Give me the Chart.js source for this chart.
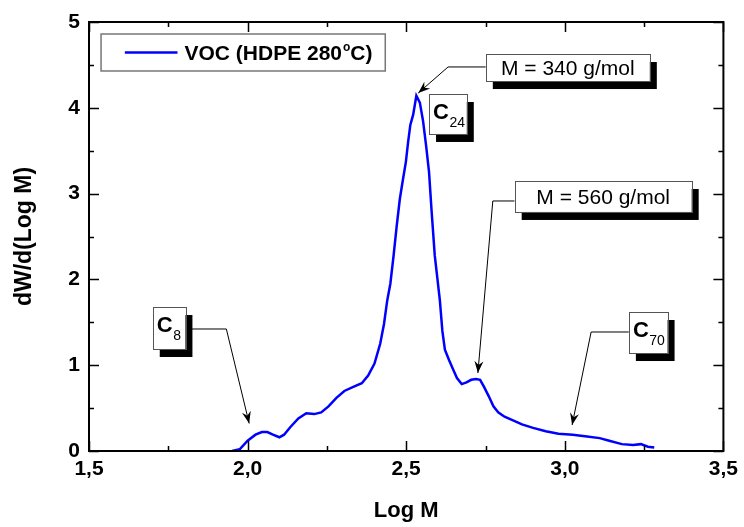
<!DOCTYPE html>
<html>
<head>
<meta charset="utf-8">
<script src="https://cdn.jsdelivr.net/npm/chart.js@4.4.0/dist/chart.umd.min.js"></script>
<style>
  html, body { margin: 0; padding: 0; background: #fff; }
  #wrap { width: 744px; height: 527px; }
</style>
</head>
<body>
<div id="wrap"><canvas id="voc-chart"></canvas></div>
<script>
// Data
const logM = [1.951, 1.975, 2.000, 2.025, 2.045, 2.062, 2.080, 2.100, 2.115, 2.135,
  2.160, 2.185, 2.210, 2.232, 2.255, 2.280, 2.305, 2.335, 2.360, 2.380,
  2.400, 2.418, 2.430, 2.440, 2.450, 2.460, 2.470, 2.480, 2.490, 2.499,
  2.506, 2.513, 2.522, 2.532, 2.543, 2.553, 2.563, 2.572, 2.580, 2.590,
  2.598, 2.606, 2.614, 2.622, 2.635, 2.648, 2.660, 2.675, 2.690, 2.705,
  2.720, 2.733, 2.745, 2.760, 2.775, 2.790, 2.810, 2.835, 2.865, 2.900,
  2.940, 2.980, 3.025, 3.070, 3.110, 3.140, 3.180, 3.215, 3.240, 3.262, 3.282];
const dWdLogM = [0.00, 0.02, 0.12, 0.19, 0.22, 0.22, 0.19, 0.16, 0.19, 0.28,
  0.38, 0.44, 0.43, 0.45, 0.52, 0.62, 0.70, 0.75, 0.79, 0.88,
  1.02, 1.25, 1.48, 1.75, 1.95, 2.27, 2.62, 2.94, 3.17, 3.37,
  3.60, 3.80, 3.92, 4.14, 4.06, 3.85, 3.55, 3.25, 2.80, 2.28,
  2.02, 1.76, 1.40, 1.18, 1.06, 0.95, 0.85, 0.78, 0.80, 0.83,
  0.84, 0.83, 0.75, 0.64, 0.52, 0.45, 0.40, 0.36, 0.31, 0.27,
  0.23, 0.20, 0.19, 0.17, 0.15, 0.12, 0.08, 0.07, 0.08, 0.05, 0.04];
const xTicks = [1.5, 2.0, 2.5, 3.0, 3.5];
const yTicks = [0, 1, 2, 3, 4, 5];
const seriesName = 'VOC (HDPE 280';

const FONT = '"Liberation Sans", Arial, Helvetica, sans-serif';

// Callouts, placed in data coordinates (box corners, leader path ending at arrow tip)
const textNotes = [
  { text: 'M = 340 g/mol', box: [2.751, 4.627, 3.268, 4.312], path: [[2.751, 4.476], [2.632, 4.476], [2.538, 4.172]] },
  { text: 'M = 560 g/mol', box: [2.842, 3.147, 3.400, 2.786], path: [[2.842, 2.914], [2.773, 2.914], [2.726, 0.909]] }
];
const carbonNotes = [
  { sub: '24', box: [2.572, 4.161, 2.691, 3.695], path: null },
  { sub: '8', box: [1.701, 1.678, 1.804, 1.189], path: [[1.804, 1.422], [1.933, 1.422], [2.005, 0.321]] },
  { sub: '70', box: [3.202, 1.620, 3.324, 1.142], path: [[3.202, 1.387], [3.083, 1.387], [3.023, 0.303]] }
];

function arrowHead(ctx, fx, fy, tx, ty) {
  const ang = Math.atan2(ty - fy, tx - fx);
  ctx.save();
  ctx.translate(tx, ty);
  ctx.rotate(ang);
  ctx.beginPath();
  ctx.moveTo(0, 0);
  ctx.lineTo(-12, -4.5);
  ctx.lineTo(-8, 0);
  ctx.lineTo(-12, 4.5);
  ctx.closePath();
  ctx.fill();
  ctx.restore();
}

function shadowBox(ctx, x0, y0, x1, y1) {
  ctx.fillStyle = '#000';
  ctx.fillRect(x0 + 7, y0 + 8, x1 - x0, y1 - y0);
  ctx.fillStyle = '#fff';
  ctx.fillRect(x0, y0, x1 - x0, y1 - y0);
  ctx.strokeStyle = '#555';
  ctx.lineWidth = 1;
  ctx.strokeRect(Math.round(x0) + 0.5, Math.round(y0) + 0.5, Math.round(x1 - x0), Math.round(y1 - y0));
}

function leader(ctx, pts) {
  ctx.strokeStyle = '#000';
  ctx.fillStyle = '#000';
  ctx.lineWidth = 1;
  ctx.beginPath();
  pts.forEach((p, i) => i ? ctx.lineTo(p[0], p[1]) : ctx.moveTo(p[0], p[1]));
  ctx.stroke();
  const n = pts.length;
  arrowHead(ctx, pts[n - 2][0], pts[n - 2][1], pts[n - 1][0], pts[n - 1][1]);
}

const framePlugin = {
  id: 'frameAndNotes',
  afterDatasetsDraw(chart) {
    const { ctx, chartArea: a, scales } = chart;
    const px = v => scales.x.getPixelForValue(v);
    const py = v => scales.y.getPixelForValue(v);
    ctx.save();

    // frame
    ctx.strokeStyle = '#000';
    ctx.lineWidth = 2;
    ctx.strokeRect(a.left, a.top, a.right - a.left, a.bottom - a.top);

    // inward ticks on all four sides, minor ticks halfway between majors
    ctx.lineWidth = 1.5;
    const xMarks = [], yMarks = [];
    xTicks.forEach((v, i) => {
      xMarks.push([v, 10]);
      if (i < xTicks.length - 1) xMarks.push([(v + xTicks[i + 1]) / 2, 5]);
    });
    yTicks.forEach((v, i) => {
      yMarks.push([v, 10]);
      if (i < yTicks.length - 1) yMarks.push([(v + yTicks[i + 1]) / 2, 5]);
    });
    ctx.beginPath();
    xMarks.forEach(([v, len]) => {
      const X = Math.round(px(v)) + 0.5;
      ctx.moveTo(X, a.bottom); ctx.lineTo(X, a.bottom - len);
      ctx.moveTo(X, a.top); ctx.lineTo(X, a.top + len);
    });
    yMarks.forEach(([v, len]) => {
      const Y = Math.round(py(v)) + 0.5;
      ctx.moveTo(a.left, Y); ctx.lineTo(a.left + len, Y);
      ctx.moveTo(a.right, Y); ctx.lineTo(a.right - len, Y);
    });
    ctx.stroke();

    // legend
    const lx0 = px(1.538), ly0 = py(4.860), lx1 = px(2.434), ly1 = py(4.429);
    ctx.fillStyle = '#fff';
    ctx.fillRect(lx0, ly0, lx1 - lx0, ly1 - ly0);
    ctx.strokeStyle = '#777';
    ctx.lineWidth = 1.5;
    ctx.strokeRect(lx0, ly0, lx1 - lx0, ly1 - ly0);
    const lmid = (ly0 + ly1) / 2;
    ctx.strokeStyle = '#0000ff';
    ctx.lineWidth = 2.5;
    ctx.beginPath();
    ctx.moveTo(px(1.613), lmid); ctx.lineTo(px(1.779), lmid);
    ctx.stroke();
    ctx.fillStyle = '#000';
    ctx.textBaseline = 'alphabetic';
    ctx.textAlign = 'left';
    ctx.font = 'bold 21px ' + FONT;
    let tx = px(1.801);
    const base = lmid + 7.5;
    ctx.fillText(seriesName, tx, base);
    tx += ctx.measureText(seriesName).width + 1;
    ctx.font = 'bold 12px ' + FONT;
    ctx.fillText('o', tx, base - 9);
    tx += ctx.measureText('o').width;
    ctx.font = 'bold 21px ' + FONT;
    ctx.fillText('C)', tx, base);

    // molar mass callouts
    textNotes.forEach(n => {
      const x0 = px(n.box[0]), y0 = py(n.box[1]), x1 = px(n.box[2]), y1 = py(n.box[3]);
      leader(ctx, n.path.map(p => [px(p[0]), py(p[1])]));
      shadowBox(ctx, x0, y0, x1, y1);
      ctx.fillStyle = '#000';
      ctx.font = '21px ' + FONT;
      ctx.textAlign = 'center';
      ctx.textBaseline = 'alphabetic';
      ctx.fillText(n.text, (x0 + x1) / 2, (y0 + y1) / 2 + 7.5);
    });

    // carbon number callouts
    carbonNotes.forEach(n => {
      const x0 = px(n.box[0]), y0 = py(n.box[1]), x1 = px(n.box[2]), y1 = py(n.box[3]);
      if (n.path) leader(ctx, n.path.map(p => [px(p[0]), py(p[1])]));
      shadowBox(ctx, x0, y0, x1, y1);
      ctx.fillStyle = '#000';
      ctx.textAlign = 'left';
      ctx.textBaseline = 'alphabetic';
      ctx.font = 'bold 22px ' + FONT;
      ctx.fillText('C', x0 + 4, y0 + 25);
      const cw = ctx.measureText('C').width;
      ctx.font = '14px ' + FONT;
      ctx.fillText(n.sub, x0 + 4 + cw + 0.5, y0 + 33);
    });

    ctx.restore();
  }
};

document.addEventListener('DOMContentLoaded', () => {
  const ctx = document.getElementById('voc-chart').getContext('2d');
  Chart.defaults.font.family = FONT;
  Chart.defaults.color = '#000';

  new Chart(ctx, {
    type: 'scatter',
    data: {
      datasets: [{
        label: seriesName + '°C)',
        data: logM.map((v, i) => ({ x: v, y: dWdLogM[i] })),
        showLine: true,
        borderColor: '#0000ff',
        borderWidth: 2.5,
        pointRadius: 0,
        tension: 0,
        fill: false
      }]
    },
    options: {
      responsive: true,
      maintainAspectRatio: false,
      animation: false,
      devicePixelRatio: 1,
      layout: { padding: { left: 0, right: 17, top: 22, bottom: 0 } },
      plugins: {
        legend: { display: false },
        tooltip: { enabled: false }
      },
      scales: {
        x: {
          type: 'linear',
          min: 1.5,
          max: 3.5,
          afterBuildTicks: s => { s.ticks = xTicks.map(v => ({ value: v })); },
          afterFit: s => { s.height = 76; },
          ticks: {
            maxRotation: 0,
            padding: 6,
            font: { size: 21, weight: 'bold' },
            callback: v => v.toFixed(1).replace('.', ',')
          },
          grid: { display: false, drawTicks: false },
          border: { display: false },
          title: {
            display: true,
            text: 'Log M',
            font: { size: 22, weight: 'bold' },
            padding: { top: 0, bottom: 3 }
          }
        },
        y: {
          min: 0,
          max: 5,
          afterBuildTicks: s => { s.ticks = yTicks.map(v => ({ value: v })); },
          afterFit: s => { s.width = 89; },
          ticks: {
            padding: 9,
            font: { size: 21, weight: 'bold' }
          },
          grid: { display: false, drawTicks: false },
          border: { display: false },
          title: {
            display: true,
            text: 'dW/d(Log M)',
            font: { size: 23, weight: 'bold' },
            padding: { top: 11, bottom: 0 }
          }
        }
      }
    },
    plugins: [framePlugin]
  });
});
</script>
</body>
</html>
